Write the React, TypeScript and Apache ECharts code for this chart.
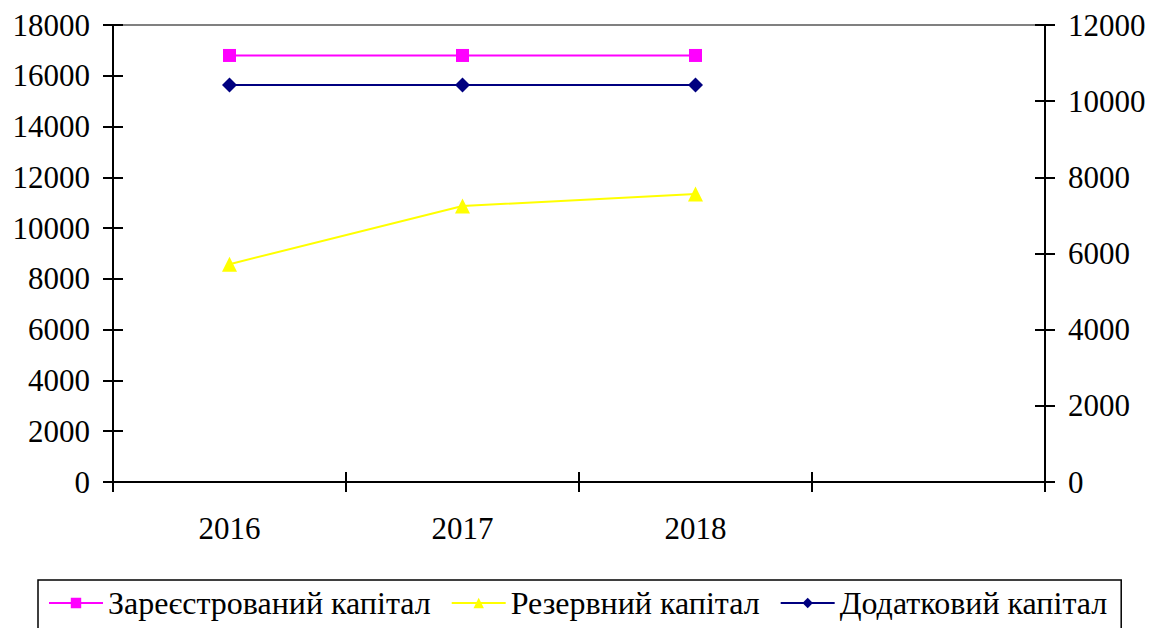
import React, { useEffect, useRef } from "react";
import * as echarts from "echarts";

const categories = ["2016", "2017", "2018", ""];
const registered = [16800, 16800, 16800, null];
const reserve = [8580, 10870, 11340, null];
const additional = [15640, 15640, 15640, null];
const leftTicks = { min: 0, max: 18000, interval: 2000 };
const rightTicks = { min: 0, max: 12000, interval: 2000 };

const FONT = "Liberation Serif";

export default function App() {
  const ref = useRef<HTMLDivElement>(null);
  useEffect(() => {
    if (!ref.current) return;
    const chart = echarts.init(ref.current, undefined, { renderer: "svg" });
    const axisLine = { show: true, onZero: false, lineStyle: { color: "#000", width: 2 } };
    const tick = (inside: boolean) => ({
      show: true,
      inside,
      length: 10,
      lineStyle: { color: "#000", width: 2 },
    });
    const yLabel = { color: "#000", fontFamily: FONT, fontSize: 31 };
    const fmt = (v: number) => String(v);
    chart.setOption({
      animation: false,
      backgroundColor: "#fff",
      textStyle: { fontFamily: FONT },
      grid: { left: 113, right: 121, top: 25, bottom: 146, containLabel: false },
      legend: {
        left: 38,
        top: 580,
        width: 1078,
        itemWidth: 54,
        itemHeight: 13,
        itemGap: 20,
        borderColor: "#000",
        borderWidth: 1.5,
        padding: [7, 14, 30, 10],
        textStyle: { color: "#000", fontFamily: FONT, fontSize: 32 },
        data: ["Зареєстрований капітал", "Резервний капітал", "Додатковий капітал"],
      },
      xAxis: [
        {
          type: "category",
          data: categories,
          boundaryGap: true,
          position: "bottom",
          axisLine,
          axisTick: tick(false),
          axisLabel: { color: "#000", fontFamily: FONT, fontSize: 31, margin: 31 },
          splitLine: { show: false },
        },
        {
          type: "category",
          data: categories,
          boundaryGap: true,
          position: "bottom",
          axisLine,
          axisTick: tick(true),
          axisLabel: { show: false },
          splitLine: { show: false },
        },
        {
          type: "category",
          data: categories,
          boundaryGap: true,
          position: "top",
          axisLine: { show: true, onZero: false, lineStyle: { color: "#808080", width: 2 } },
          axisTick: { show: false },
          axisLabel: { show: false },
          splitLine: { show: false },
        },
      ],
      yAxis: [
        {
          type: "value",
          position: "left",
          ...leftTicks,
          axisLine,
          axisTick: tick(false),
          axisLabel: { ...yLabel, margin: 23, formatter: fmt },
          splitLine: { show: false },
        },
        {
          type: "value",
          position: "left",
          ...leftTicks,
          axisLine,
          axisTick: tick(true),
          axisLabel: { show: false },
          splitLine: { show: false },
        },
        {
          type: "value",
          position: "right",
          ...rightTicks,
          axisLine,
          axisTick: tick(false),
          axisLabel: { ...yLabel, margin: 23, formatter: fmt },
          splitLine: { show: false },
        },
        {
          type: "value",
          position: "right",
          ...rightTicks,
          axisLine,
          axisTick: tick(true),
          axisLabel: { show: false },
          splitLine: { show: false },
        },
      ],
      series: [
        {
          name: "Зареєстрований капітал",
          type: "line",
          data: registered,
          symbol: "rect",
          symbolSize: 13,
          itemStyle: { color: "#ff00ff" },
          lineStyle: { color: "#ff00ff", width: 2 },
        },
        {
          name: "Резервний капітал",
          type: "line",
          data: reserve,
          symbol: "triangle",
          symbolSize: 15,
          itemStyle: { color: "#ffff00" },
          lineStyle: { color: "#ffff00", width: 2 },
        },
        {
          name: "Додатковий капітал",
          type: "line",
          data: additional,
          symbol: "diamond",
          symbolSize: 15,
          itemStyle: { color: "#000080" },
          lineStyle: { color: "#000080", width: 2 },
        },
      ],
    });
    return () => chart.dispose();
  }, []);
  return (
    <div
      ref={ref}
      style={{ position: "fixed", left: 0, top: 0, width: 1166, height: 628, background: "#fff" }}
    />
  );
}
